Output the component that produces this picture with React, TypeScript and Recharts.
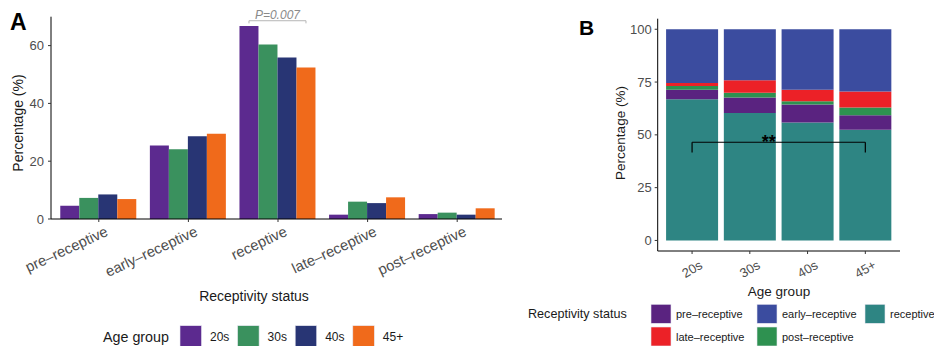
import React from 'react';
import { BarChart, Bar, XAxis, YAxis, LabelList, ReferenceLine } from 'recharts';

const statuses = ['pre–receptive', 'early–receptive', 'receptive', 'late–receptive', 'post–receptive'];
const ageGroups = ['20s', '30s', '40s', '45+'];

// percentage per receptivity status (same order as statuses)
const pct20s = [4.6, 25.4, 66.8, 1.5, 1.7];
const pct30s = [7.3, 24.1, 60.4, 6.0, 2.2];
const pct40s = [8.5, 28.6, 55.9, 5.5, 1.5];
const pct45 = [6.9, 29.5, 52.4, 7.5, 3.7];

const ageColors = ['#5C2A8F', '#3A915E', '#283574', '#F06A1B'];
const statusColors = ['#5A2380', '#3B4C9F', '#2E8583', '#EC2127', '#2E9150'];

// panel B stacking, bottom to top
const stackOrder = [2, 0, 4, 3, 1];

const yTicksA = [0, 20, 40, 60];
const yTicksB = [0, 25, 50, 75, 100];

const pLabel = 'P=0.007';
const pBracket = { line: 68.6, tick: 67.7, text: 69.3 };
const sigLabel = '**';
const sigBracket = { line: 46.5, tick: 41.7 };

const ageSeries = [pct20s, pct30s, pct40s, pct45];

const dataA = statuses.map((s, i) => {
  const row: any = { status: s };
  ageGroups.forEach((g, j) => (row[g] = ageSeries[j][i]));
  return row;
});

const dataB = ageGroups.map((g, j) => {
  const row: any = { age: g };
  statuses.forEach((s, i) => (row[s] = ageSeries[j][i]));
  return row;
});

const GREY = '#4d4d4d';

const TickA = ({ x, y, payload }: any) => {
  const ax = x + 5.5;
  const ay = y + 1;
  return (
    <text x={ax} y={ay} dy="0.75em" textAnchor="end" fill={GREY} fontSize={14.7}
      transform={`rotate(-25, ${ax}, ${ay})`}>
      {payload.value}
    </text>
  );
};

const TickB = ({ x, y, payload }: any) => {
  const ay = y + 13;
  return (
    <text x={x} y={ay} dy="0.35em" textAnchor="middle" fill={GREY} fontSize={13}
      transform={`rotate(-30, ${x}, ${ay})`}>
      {payload.value}
    </text>
  );
};

// P-value bracket over the receptive group, from the 20s bar to the 45+ bar
const PBracket = (props: any) => {
  const recIdx = statuses.indexOf('receptive');
  const vb = props.viewBox ?? props;
  const { x, y, width, height } = vb;
  const value = Number(props.value);
  if (props.index !== undefined ? props.index !== recIdx : value !== pct20s[recIdx]) return null;
  const ppu = height / value;
  const base = y + height;
  const x1 = x + width / 2;
  const x2 = x + width * 3.5;
  const ly = base - pBracket.line * ppu;
  const ty = base - pBracket.tick * ppu;
  return (
    <g>
      <path d={`M${x1},${ty}V${ly}H${x2}V${ty}`} fill="none" stroke="#b5b5b5" strokeWidth={1} />
      <text x={(x1 + x2) / 2} y={base - pBracket.text * ppu} textAnchor="middle" fontSize={12}
        fontStyle="italic" fill="#8a8a8a">{pLabel}</text>
    </g>
  );
};

const SigText = (props: any) => {
  const vb = props.viewBox || {};
  const cx = (vb.x ?? 0) + (vb.width ?? 0) / 2 - 10;
  return (
    <text x={cx} y={(vb.y ?? 0) + 6} textAnchor="middle" fontSize={18} fontWeight="bold" fill="#000">
      {sigLabel}
    </text>
  );
};

export default function App() {
  return (
    <div style={{ position: 'absolute', left: 0, top: 0, width: 934, height: 346, background: '#fff',
      fontFamily: '"Liberation Sans", Arial, sans-serif' }}>
      <div style={{ position: 'absolute', left: 0, top: 0 }}>
        <BarChart width={515} height={346} data={dataA} barCategoryGap="7%" barGap={0}
          margin={{ top: 16.7, right: 13, bottom: 67, left: 0 }}>
          <XAxis dataKey="status" height={60} interval={0} padding={{ left: 3, right: 0 }}
            tick={<TickA />} tickSize={3} axisLine={{ stroke: '#000' }} tickLine={{ stroke: '#333' }} />
          <YAxis width={51} domain={[0, 70]} ticks={yTicksA} tickSize={3} tickMargin={4}
            tick={{ fill: GREY, fontSize: 13 }} axisLine={{ stroke: '#000' }} tickLine={{ stroke: '#333' }} />
          {ageGroups.map((g, j) => (
            <Bar key={g} dataKey={g} fill={ageColors[j]} isAnimationActive={false}>
              {j === 0 && <LabelList dataKey={g} content={PBracket} />}
            </Bar>
          ))}
        </BarChart>
      </div>

      <div style={{ position: 'absolute', left: 580, top: 0 }}>
        <BarChart width={354} height={346} data={dataB} barCategoryGap="5%"
          margin={{ top: 18.7, right: 34, bottom: 55, left: 0 }}>
          <XAxis dataKey="age" height={40} interval={0} padding={{ left: 5.5, right: 5.8 }}
            tick={<TickB />} tickSize={3} axisLine={{ stroke: '#000' }} tickLine={{ stroke: '#333' }} />
          <YAxis width={77.7} domain={[-5, 105]} ticks={yTicksB} tickSize={3} tickMargin={3}
            tick={{ fill: GREY, fontSize: 13 }} axisLine={{ stroke: '#000' }} tickLine={{ stroke: '#333' }} />
          {stackOrder.map((i) => (
            <Bar key={statuses[i]} dataKey={statuses[i]} stackId="s" fill={statusColors[i]}
              isAnimationActive={false} />
          ))}
          <ReferenceLine ifOverflow="visible" stroke="#000" strokeWidth={1.2}
            segment={[{ x: ageGroups[0], y: sigBracket.line }, { x: ageGroups[3], y: sigBracket.line }]}
            label={<SigText />} />
          <ReferenceLine ifOverflow="visible" stroke="#000" strokeWidth={1.2}
            segment={[{ x: ageGroups[0], y: sigBracket.line }, { x: ageGroups[0], y: sigBracket.tick }]} />
          <ReferenceLine ifOverflow="visible" stroke="#000" strokeWidth={1.2}
            segment={[{ x: ageGroups[3], y: sigBracket.line }, { x: ageGroups[3], y: sigBracket.tick }]} />
        </BarChart>
      </div>

      {/* titles, panel letters and legends */}
      <svg width={934} height={346} style={{ position: 'absolute', left: 0, top: 0, pointerEvents: 'none' }}>
        <text x={10} y={30} fontSize={23} fontWeight="bold" fill="#000">A</text>
        <text x={579} y={35} fontSize={21} fontWeight="bold" fill="#000">B</text>

        <text x={17.5} y={123} fontSize={14} textAnchor="middle" dominantBaseline="central"
          transform="rotate(-90, 17.5, 123)" fill="#1a1a1a">Percentage (%)</text>
        <text x={254} y={296} fontSize={14} textAnchor="middle" dominantBaseline="central" fill="#1a1a1a">
          Receptivity status
        </text>
        <text x={620} y={133} fontSize={13.5} textAnchor="middle" dominantBaseline="central"
          transform="rotate(-90, 620, 133)" fill="#1a1a1a">Percentage (%)</text>
        <text x={779} y={291} fontSize={13.5} textAnchor="middle" dominantBaseline="central" fill="#1a1a1a">
          Age group
        </text>

        <text x={103} y={337} fontSize={14.3} dominantBaseline="central" fill="#1a1a1a">Age group</text>
        {ageGroups.map((g, j) => (
          <g key={g}>
            <rect x={180 + j * 57.6} y={325.7} width={21.5} height={21.5} fill={ageColors[j]}
              stroke="#e6e6f0" strokeWidth={0.6} />
            <text x={210 + j * 57.6} y={337} fontSize={12} dominantBaseline="central" fill="#1a1a1a">{g}</text>
          </g>
        ))}

        <text x={528} y={314} fontSize={12.6} dominantBaseline="central" fill="#1a1a1a">Receptivity status</text>
        {statuses.map((s, i) => {
          const col = i % 3;
          const row = Math.floor(i / 3);
          const sx = [651, 757, 865][col];
          const sy = [304.3, 327][row];
          return (
            <g key={s}>
              <rect x={sx} y={sy} width={20} height={19} fill={statusColors[i]} stroke="#e6e6f0" strokeWidth={0.6} />
              <text x={sx + 25} y={sy + 9.5} fontSize={11} dominantBaseline="central" fill="#1a1a1a">{s}</text>
            </g>
          );
        })}
      </svg>
    </div>
  );
}
